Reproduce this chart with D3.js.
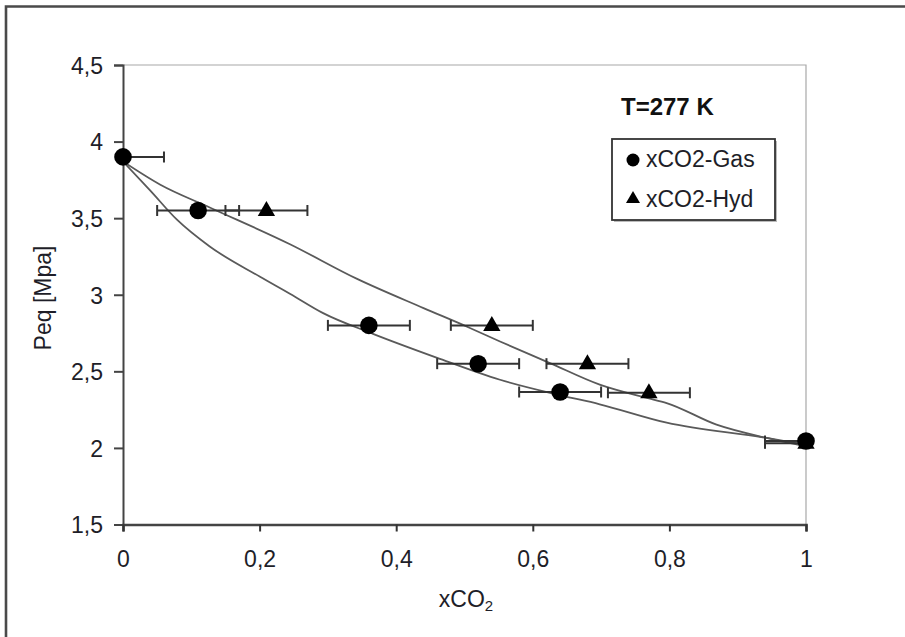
<!DOCTYPE html>
<html>
<head>
<meta charset="utf-8">
<script src="https://cdn.jsdelivr.net/npm/d3@7/dist/d3.min.js"></script>
<style>
  html, body { margin: 0; padding: 0; background: #fff; }
  svg { display: block; font-family: "Liberation Sans", Arial, sans-serif; }
</style>
</head>
<body>
<svg id="chart" width="905" height="637"></svg>
<script>
// Measured equilibrium points (mole fraction of CO2 vs pressure)
const gasX = [0, 0.11, 0.36, 0.52, 0.64, 1.0];
const gasY = [3.9, 3.55, 2.8, 2.55, 2.365, 2.045];
const hydX = [0.21, 0.54, 0.68, 0.77, 1.0];
const hydY = [3.55, 2.8, 2.55, 2.36, 2.03];
const errX = 0.06; // horizontal uncertainty on xCO2

// Model curves
const lowerX = [0, 0.04, 0.079, 0.127, 0.2, 0.245, 0.293, 0.366, 0.459, 0.552, 0.637, 0.698, 0.796, 0.9425, 1];
const lowerY = [3.87, 3.68, 3.49, 3.315, 3.119, 3.005, 2.88, 2.745, 2.59, 2.445, 2.347, 2.285, 2.165, 2.065, 2.02];
const upperX = [0, 0.054, 0.127, 0.2445, 0.342, 0.44, 0.503, 0.552, 0.625, 0.698, 0.767, 0.796, 0.869, 0.9425, 1];
const upperY = [3.87, 3.72, 3.57, 3.33, 3.105, 2.913, 2.793, 2.695, 2.554, 2.413, 2.326, 2.293, 2.152, 2.065, 2.01];

// Axis ticks
const xTicks = [0, 0.2, 0.4, 0.6, 0.8, 1];
const yTicks = [1.5, 2, 2.5, 3, 3.5, 4, 4.5];

const legendLabels = ["xCO2-Gas", "xCO2-Hyd"];
const tempLabel = "T=277 K";

const svg = d3.select("#chart");
const locale = d3.formatLocale({decimal: ",", thousands: ".", grouping: [3], currency: ["", ""]});
const fmt = locale.format(".2~f");

const x = d3.scaleLinear().domain([0, 1]).range([123, 806]);
const y = d3.scaleLinear().domain([1.5, 4.5]).range([524.5, 65]);

// outer frame (top and left edges visible)
svg.append("path")
  .attr("d", "M6,640 L6,6.5 L910,6.5")
  .attr("fill", "none").attr("stroke", "#4a4a4a").attr("stroke-width", 2.6);

// plot area top/right border
svg.append("path")
  .attr("d", `M${x(0)},${y(4.5)} L${x(1)},${y(4.5)} L${x(1)},${y(1.5)}`)
  .attr("fill", "none").attr("stroke", "#a8a8a8").attr("stroke-width", 1.2);

const txtColor = "#1e1e28";

// y axis
const gy = svg.append("g").attr("transform", `translate(${x(0)},0)`)
  .call(d3.axisLeft(y).tickValues(yTicks).tickFormat(fmt).tickSize(9).tickPadding(11));
gy.select(".domain").attr("stroke", "#444").attr("stroke-width", 2);
gy.selectAll(".tick line").attr("stroke", "#444").attr("stroke-width", 2);
gy.selectAll(".tick text").attr("font-size", 23).attr("fill", txtColor)
  .attr("font-family", "Liberation Sans, Arial, sans-serif").attr("dy", "0.36em");

// x axis
const gx = svg.append("g").attr("transform", `translate(0,${y(1.5)})`)
  .call(d3.axisBottom(x).tickValues(xTicks).tickFormat(fmt).tickSize(7).tickPadding(19));
gx.select(".domain").attr("stroke", "#444").attr("stroke-width", 2.6);
gx.selectAll(".tick line").attr("stroke", "#333").attr("stroke-width", 2);
gx.selectAll(".tick text").attr("font-size", 23).attr("fill", txtColor)
  .attr("font-family", "Liberation Sans, Arial, sans-serif");

// axis titles
const xt = svg.append("text").attr("x", 466).attr("y", 607)
  .attr("text-anchor", "middle").attr("font-size", 23).attr("fill", txtColor);
xt.append("tspan").text("xCO");
xt.append("tspan").text("2").attr("font-size", 15).attr("dy", 4);

svg.append("text")
  .attr("transform", "translate(51,298) rotate(-90)")
  .attr("text-anchor", "middle").attr("font-size", 23).attr("fill", txtColor)
  .text("Peq [Mpa]");

// clip to plot area
svg.append("clipPath").attr("id", "plot")
  .append("rect").attr("x", x(0)).attr("y", y(4.5))
  .attr("width", x(1) - x(0)).attr("height", y(1.5) - y(4.5));

const plot = svg.append("g").attr("clip-path", "url(#plot)");

// model curves
const line = d3.line().curve(d3.curveMonotoneX).x(d => x(d[0])).y(d => y(d[1]));
[[lowerX, lowerY], [upperX, upperY]].forEach(([xs, ys]) => {
  plot.append("path")
    .datum(xs.map((v, i) => [v, ys[i]]))
    .attr("d", line)
    .attr("fill", "none").attr("stroke", "#5a5a5a").attr("stroke-width", 1.8);
});

// error bars
const gasPts = gasX.map((v, i) => [v, gasY[i]]);
const hydPts = hydX.map((v, i) => [v, hydY[i]]);
const allPts = gasPts.concat(hydPts);
const eb = plot.append("g").attr("stroke", "#333").attr("stroke-width", 2).attr("fill", "none");
allPts.forEach(([px, py]) => {
  const x0 = x(px - errX), x1 = x(px + errX), yy = y(py);
  eb.append("line").attr("x1", x0).attr("x2", x1).attr("y1", yy).attr("y2", yy);
  eb.append("line").attr("x1", x0).attr("x2", x0).attr("y1", yy - 5.5).attr("y2", yy + 5.5);
  eb.append("line").attr("x1", x1).attr("x2", x1).attr("y1", yy - 5.5).attr("y2", yy + 5.5);
});

// markers (drawn unclipped so edge points show fully)
const marks = svg.append("g");
const tri = d3.symbol().type(d3.symbolTriangle).size(130);
marks.selectAll("path.hyd").data(hydPts).join("path").attr("class", "hyd")
  .attr("d", tri).attr("transform", d => `translate(${x(d[0])},${y(d[1]) + 0.5})`)
  .attr("fill", "#000");
marks.selectAll("circle.gas").data(gasPts).join("circle").attr("class", "gas")
  .attr("cx", d => x(d[0])).attr("cy", d => y(d[1])).attr("r", 8.8)
  .attr("fill", "#000");

// temperature label
svg.append("text").attr("x", 621).attr("y", 115)
  .attr("font-size", 24).attr("font-weight", "bold").attr("fill", "#111")
  .text(tempLabel);

// legend
const lg = svg.append("g");
lg.append("rect").attr("x", 614).attr("y", 141).attr("width", 163).attr("height", 81)
  .attr("fill", "#bbb");
lg.append("rect").attr("x", 612).attr("y", 139).attr("width", 163).attr("height", 81)
  .attr("fill", "#fff").attr("stroke", "#333").attr("stroke-width", 1.8);
lg.append("circle").attr("cx", 633).attr("cy", 160).attr("r", 6.5).attr("fill", "#000");
lg.append("path").attr("d", d3.symbol().type(d3.symbolTriangle).size(85))
  .attr("transform", "translate(633,199)").attr("fill", "#000");
legendLabels.forEach((t, i) => {
  lg.append("text").attr("x", 646).attr("y", 167 + i * 40)
    .attr("font-size", 23).attr("fill", txtColor).text(t);
});
</script>
</body>
</html>
